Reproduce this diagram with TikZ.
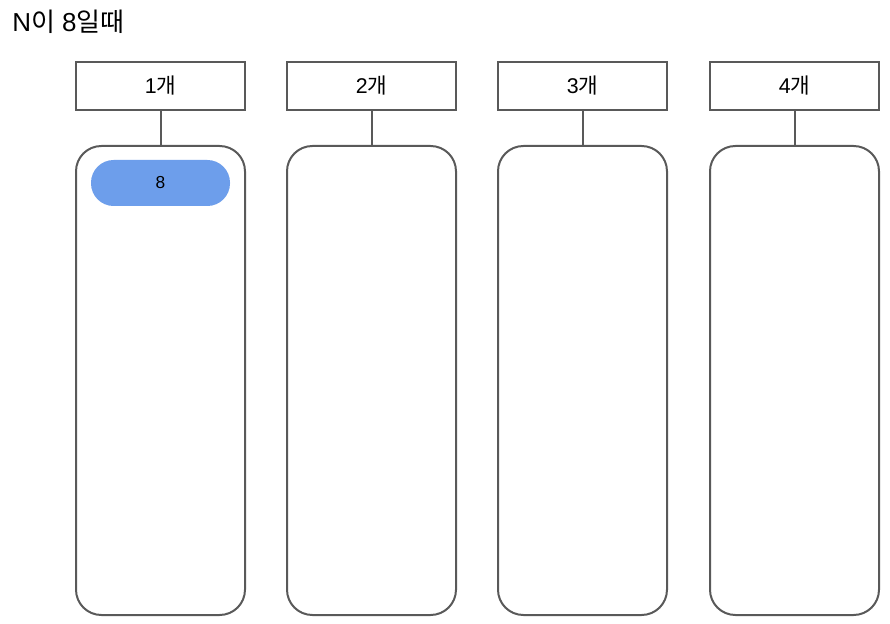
\documentclass[tikz,border=0pt]{standalone}
\usepackage{fontspec}
\setmainfont{Liberation Sans}
\newfontfamily\kr{Noto Sans CJK KR}
\definecolor{edge}{HTML}{595959}
\definecolor{pill}{HTML}{6D9EEB}
\begin{document}
\begin{tikzpicture}[x=0.75pt,y=-0.75pt,
  hdr/.style={draw=edge,line width=1.5pt,fill=white,minimum width=169*0.75pt,minimum height=48*0.75pt,inner sep=0pt,font=\fontsize{16}{19}\selectfont},
  col/.style={draw=edge,line width=1.5pt,fill=white,rounded corners=19pt,minimum width=169*0.75pt,minimum height=469*0.75pt,inner sep=0pt},
  chip/.style={fill=pill,rounded corners=17pt,minimum width=139*0.75pt,minimum height=46*0.75pt,inner sep=0pt,font=\fontsize{13}{15}\selectfont},
  link/.style={draw=edge,line width=1.5pt}]
\useasboundingbox (0,0) rectangle (890,624);
\node[anchor=west,inner sep=0pt,font=\fontsize{19.5}{23}\selectfont] (title) at (12,22) {N{\kr 이} 8{\kr 일때}};
\foreach \i/\x in {1/160.5,2/371.5,3/582.5,4/794.5}{
  \node[hdr] (h\i) at (\x,86) {\i{\kr 개}};
  \node[col] (c\i) at (\x,380.5) {};
  \draw[link] (h\i.south) -- (c\i.north);
}
\node[chip] (p1) at (160.5,183) {8};
\end{tikzpicture}
\end{document}
